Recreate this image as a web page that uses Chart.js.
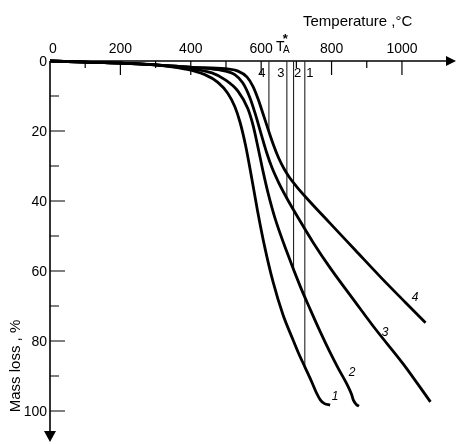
<!DOCTYPE html>
<html>
<head>
<meta charset="utf-8">
<script src="https://cdn.jsdelivr.net/npm/chart.js@4.4.1/dist/chart.umd.min.js"></script>
<style>
  html, body { margin: 0; padding: 0; background: #fff; }
  #wrap { width: 456px; height: 444px; }
</style>
</head>
<body>
<div id="wrap"><canvas id="chart"></canvas></div>
<script>
// TG curves: temperature (degC) -> mass loss (%)
var temp1 = [0, 100, 200, 300, 384, 440, 477, 505, 525, 540, 555, 570, 590, 610, 634, 662, 691, 705, 725, 745, 758, 768, 780, 796];
var loss1 = [0, 0.3, 0.6, 1.1, 2.3, 3.9, 6.1, 9.2, 13.0, 17.5, 23.8, 31.7, 43.0, 53.1, 63.2, 72.5, 79.8, 83.2, 87.6, 92, 95, 96.8, 97.9, 98.3];

var temp2 = [0, 100, 200, 300, 384, 460, 497, 534, 562, 577, 591, 605, 620, 639, 674, 711, 739, 768, 794, 819, 844, 857, 862, 871, 878];
var loss2 = [0, 0.3, 0.6, 1.1, 2.0, 3.4, 5.3, 8.6, 13.6, 18.4, 24.7, 31.4, 37.9, 44.8, 54.8, 64.4, 70.9, 77.4, 82.9, 87.8, 92.4, 95.3, 96.9, 98.2, 98.6];

var temp3 = [0, 100, 200, 300, 404, 477, 525, 548, 568, 582, 600, 615, 630, 650, 673, 711, 748, 796, 867, 924, 1004, 1081];
var loss3 = [0, 0.3, 0.6, 1.1, 1.8, 2.5, 3.9, 6.3, 10.5, 14.7, 20.9, 26.0, 30.3, 34.8, 39.2, 45.8, 51.9, 59.1, 68.8, 76.5, 86.6, 97.4];

var temp4 = [0, 100, 200, 300, 404, 497, 534, 560, 577, 591, 605, 620, 635, 650, 665, 680, 700, 725, 796, 867, 938, 1010, 1067];
var loss4 = [0, 0.3, 0.6, 1.1, 1.8, 2.2, 2.9, 4.6, 7.3, 10.8, 15.0, 19.6, 24.0, 27.8, 30.8, 33.2, 35.8, 38.7, 46.4, 54.0, 61.6, 69.0, 74.8];

var curveNames = ['1', '2', '3', '4'];
// T_A* for each curve and the mass loss where its marker line stops
var taTemp = [724, 692, 673, 622];
var taLoss = [87.5, 59.5, 39.1, 20];
// where the curve numbers sit near the curve ends
var nameTemp = [810, 858, 952, 1037];
var nameLoss = [95.7, 88.9, 77.4, 67.4];

var xLabelValues = [0, 200, 400, 600, 800, 1000];
var xLabels = ['0', '200', '400', '600', '800', '1000'];
var xMinorTicks = [100, 300, 500, 700, 900];
var yLabelValues = [0, 20, 40, 60, 80, 100];
var yLabels = ['0', '20', '40', '60', '80', '100'];
var yMinorTicks = [10, 30, 50, 70, 90];

function toPoints(xs, ys) {
  return xs.map(function(x, i) { return { x: x, y: ys[i] }; });
}

var curves = [[temp1, loss1], [temp2, loss2], [temp3, loss3], [temp4, loss4]];
var datasets = [];
curves.forEach(function(c, i) {
  datasets.push({
    label: 'curve ' + curveNames[i],
    data: toPoints(c[0], c[1]),
    borderColor: '#000',
    borderWidth: 2.8,
    pointRadius: 0,
    cubicInterpolationMode: 'monotone',
    clip: false
  });
});
// thin vertical T_A* markers
taTemp.forEach(function(t, i) {
  datasets.push({
    label: 'TA ' + curveNames[i],
    data: [{ x: t, y: 0 }, { x: t, y: taLoss[i] }],
    borderColor: '#222',
    borderWidth: 1.1,
    pointRadius: 0,
    clip: false
  });
});

var FONT = 'Liberation Sans';

var axesPlugin = {
  id: 'axes',
  beforeDatasetsDraw: function(chart) {
    var ctx = chart.ctx, xs = chart.scales.x, ys = chart.scales.y;
    var x0 = xs.getPixelForValue(0), y0 = ys.getPixelForValue(0);
    var xEnd = chart.chartArea.right, yEnd = chart.chartArea.bottom;
    ctx.save();
    ctx.strokeStyle = '#000';
    ctx.fillStyle = '#000';
    ctx.lineWidth = 1.6;
    ctx.beginPath();
    ctx.moveTo(x0, y0); ctx.lineTo(xEnd, y0);
    ctx.moveTo(x0, y0); ctx.lineTo(x0, yEnd);
    ctx.stroke();
    // arrow heads
    ctx.beginPath();
    ctx.moveTo(xEnd - 1, y0 - 5); ctx.lineTo(xEnd + 9, y0); ctx.lineTo(xEnd - 1, y0 + 5);
    ctx.closePath(); ctx.fill();
    ctx.beginPath();
    ctx.moveTo(x0 - 6, yEnd - 1); ctx.lineTo(x0 + 6, yEnd - 1); ctx.lineTo(x0, yEnd + 10);
    ctx.closePath(); ctx.fill();
    // ticks point into the plot
    ctx.lineWidth = 1.2;
    ctx.beginPath();
    xLabelValues.forEach(function(t) {
      if (t === 0) return;
      var px = xs.getPixelForValue(t);
      ctx.moveTo(px, y0); ctx.lineTo(px, y0 + 14);
    });
    xMinorTicks.forEach(function(t) {
      var px = xs.getPixelForValue(t);
      ctx.moveTo(px, y0); ctx.lineTo(px, y0 + 7);
    });
    yLabelValues.forEach(function(v) {
      if (v === 0) return;
      var py = ys.getPixelForValue(v);
      ctx.moveTo(x0, py); ctx.lineTo(x0 + 15, py);
    });
    yMinorTicks.forEach(function(v) {
      var py = ys.getPixelForValue(v);
      ctx.moveTo(x0, py); ctx.lineTo(x0 + 9, py);
    });
    ctx.stroke();
    ctx.restore();
  },
  afterDatasetsDraw: function(chart) {
    var ctx = chart.ctx, xs = chart.scales.x, ys = chart.scales.y;
    var x0 = xs.getPixelForValue(0), y0 = ys.getPixelForValue(0);
    ctx.save();
    ctx.fillStyle = '#000';
    ctx.font = '14px "' + FONT + '"';
    ctx.textBaseline = 'alphabetic';
    ctx.textAlign = 'center';
    xLabelValues.forEach(function(t, i) {
      var px = xs.getPixelForValue(t);
      if (t === 0) px += 3;
      ctx.fillText(xLabels[i], px, y0 - 8);
    });
    ctx.textAlign = 'right';
    ctx.textBaseline = 'middle';
    yLabelValues.forEach(function(v, i) {
      ctx.fillText(yLabels[i], x0 - 3, ys.getPixelForValue(v) + 1);
    });
    // T_A* in place of the 700 label
    var pa = xs.getPixelForValue(700) - 14;
    ctx.textAlign = 'center';
    ctx.textBaseline = 'alphabetic';
    ctx.font = '14px "' + FONT + '"';
    ctx.fillText('T', pa - 2, y0 - 10);
    ctx.font = '10px "' + FONT + '"';
    ctx.fillText('A', pa + 4, y0 - 8);
    ctx.font = 'bold 13px "' + FONT + '"';
    ctx.fillText('*', pa + 3, y0 - 18);
    // axis titles
    ctx.font = '15px "' + FONT + '"';
    ctx.textAlign = 'left';
    ctx.fillText('Temperature ,\u00b0C', 303, 26);
    ctx.save();
    ctx.translate(16, 366);
    ctx.rotate(-Math.PI / 2);
    ctx.textAlign = 'center';
    ctx.textBaseline = 'middle';
    ctx.fillText('Mass loss , %', 0, 0);
    ctx.restore();
    // numbers beside the T_A* lines
    var offs = [5, 4, -6, -7];
    ctx.font = '13px "' + FONT + '"';
    ctx.textAlign = 'center';
    taTemp.forEach(function(t, i) {
      ctx.fillText(curveNames[i], xs.getPixelForValue(t) + offs[i], y0 + 16);
    });
    // numbers at the curve ends
    ctx.font = 'italic 12px "' + FONT + '"';
    nameTemp.forEach(function(t, i) {
      ctx.fillText(curveNames[i], xs.getPixelForValue(t), ys.getPixelForValue(nameLoss[i]) + 4);
    });
    ctx.restore();
  }
};

var config = {
  type: 'line',
  data: { datasets: datasets },
  options: {
    responsive: true,
    maintainAspectRatio: false,
    animation: false,
    layout: {
      padding: { left: 50, top: 61, right: 9, bottom: 12 }
    },
    scales: {
      x: { type: 'linear', min: 0, max: 1128, display: false },
      y: { type: 'linear', min: 0, max: 106, reverse: true, display: false }
    },
    plugins: {
      legend: { display: false },
      tooltip: { enabled: false }
    }
  },
  plugins: [axesPlugin]
};

window.onload = function() {
  var ctx = document.getElementById('chart').getContext('2d');
  window.tgChart = new Chart(ctx, config);
};
</script>
</body>
</html>
